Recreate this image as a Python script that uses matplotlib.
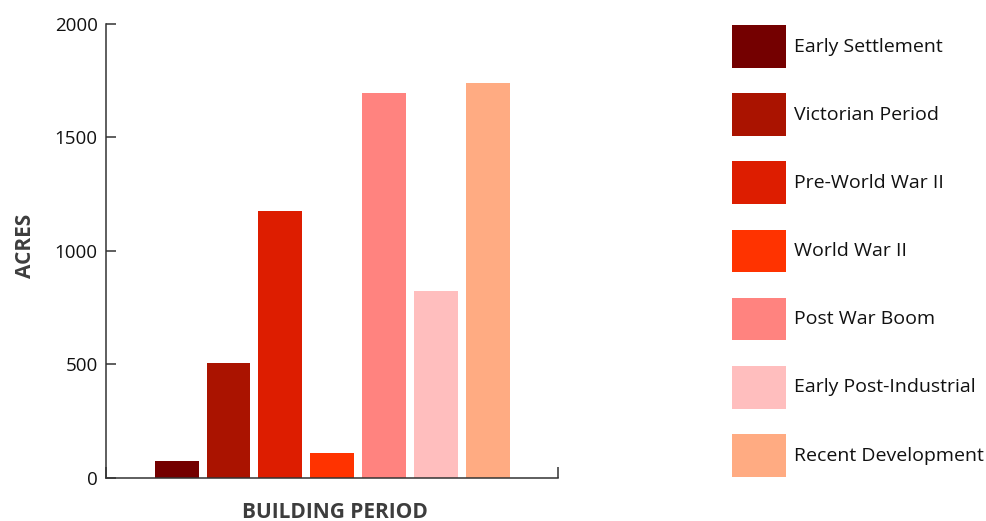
import matplotlib.pyplot as plt
from matplotlib.patches import Rectangle

plt.rcParams['font.family'] = ['Open Sans', 'DejaVu Sans']

periods = ['Early Settlement', 'Victorian Period', 'Pre-World War II', 'World War II',
           'Post War Boom', 'Early Post-Industrial', 'Recent Development']
acres = [72, 505, 1175, 109, 1695, 824, 1742]
colors = ['#740000', '#AA1300', '#DD1D00', '#FF3300', '#FF837F', '#FFBEBE', '#FFAB82']
yticks = [0, 500, 1000, 1500, 2000]

axis_color = '#333333'
label_color = '#3d3d3d'

W, H = 987, 521
fig = plt.figure(figsize=(W / 100, H / 100), dpi=100)
ax = fig.add_axes([106 / W, 1 - 477.7 / H, 452 / W, 453.7 / H])

x = range(len(periods))
ax.bar(x, acres, width=0.845, color=colors, linewidth=0)

ax.set_xlim(-1.36, 7.35)
ax.set_ylim(0, 2000)

# d3-style axes: only left and bottom spines, inner ticks
for side in ['top', 'right']:
    ax.spines[side].set_visible(False)
for side in ['left', 'bottom']:
    ax.spines[side].set_color(axis_color)
    ax.spines[side].set_linewidth(1.1)

ax.set_yticks(yticks)
ax.tick_params(axis='y', direction='in', length=7, width=1.1, color=axis_color,
               labelsize=13.5, labelcolor='#111111', pad=6)
ax.set_xticks([-1.36, 7.35])
ax.set_xticklabels([])
ax.tick_params(axis='x', direction='in', length=8, width=1.1, color=axis_color)

# axis titles placed in pixel terms
fig.text(25.5 / W, 1 - 245.5 / H, 'ACRES', rotation=90, fontsize=15, fontweight='bold',
         color=label_color, ha='center', va='center')
fig.text(334.5 / W, 1 - 517.7 / H, 'BUILDING PERIOD', fontsize=15, fontweight='bold',
         color=label_color, ha='center', va='baseline')

# legend drawn as boxes in pixel space on the right
leg = fig.add_axes([0, 0, 1, 1])
leg.set_xlim(0, W)
leg.set_ylim(H, 0)
leg.axis('off')
for i, (name, c) in enumerate(zip(periods, colors)):
    top = 25 + i * 68.2
    leg.add_patch(Rectangle((732, top), 54, 42.5, facecolor=c, edgecolor='none'))
    leg.text(794, top + 21.5, name, fontsize=14, color='#111111', va='center', ha='left')

fig.savefig('out.png', dpi=100)
